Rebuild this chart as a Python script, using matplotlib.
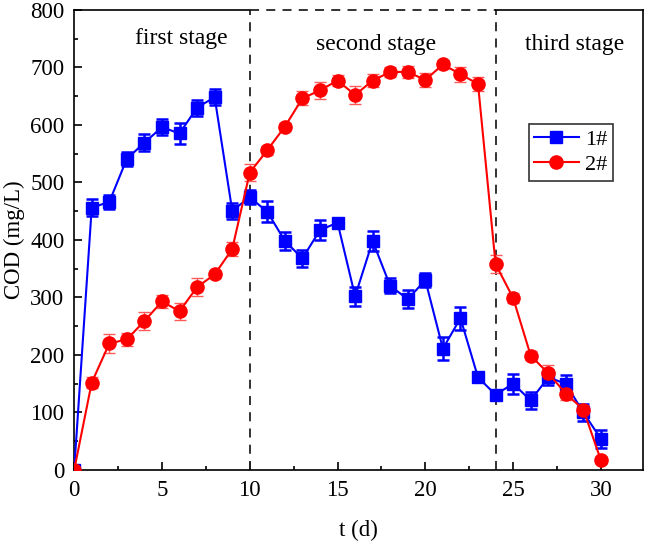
import numpy as np
import matplotlib.pyplot as plt
from matplotlib.ticker import MultipleLocator
from matplotlib.lines import Line2D

plt.rcParams['font.family'] = ['Liberation Serif', 'DejaVu Serif']

t = np.arange(0, 31)

cod1 = [0, 456, 466, 541, 569, 596, 585, 630, 648, 451, 474, 449, 398, 368, 417, 430,
        302, 398, 320, 297, 330, 211, 264, 161, 131, 150, 121, 161, 150, 100, 54]
err1 = [0, 15, 12, 12, 15, 14, 18, 14, 14, 14, 12, 18, 15, 15, 17, 6,
        17, 17, 13, 16, 12, 20, 20, 8, 8, 17, 15, 13, 15, 15, 15]

cod2 = [0, 152, 220, 227, 259, 293, 276, 318, 340, 384, 517, 556, 597, 646, 660, 677,
        652, 677, 692, 692, 678, 705, 688, 671, 358, 299, 199, 168, 133, 105, 17]
err2 = [0, 10, 16, 12, 15, 12, 15, 15, 6, 12, 15, 8, 6, 12, 15, 10,
        15, 12, 8, 10, 12, 8, 13, 12, 15, 8, 8, 15, 12, 8, 5]

stages = ["first stage", "second stage", "third stage"]
stage_x = [6.1, 17.2, 28.5]
stage_y = [750, 740, 740]

fig = plt.figure(figsize=(6.45, 5.44), dpi=100)
ax = fig.add_axes([0.115, 0.136, 0.882, 0.846])

ax.errorbar(t, cod1, yerr=err1, color="blue", marker="s", markersize=8, lw=1.5,
            elinewidth=1.8, capsize=4, capthick=1.8, zorder=3)
ax.errorbar(t, cod2, yerr=err2, color="red", marker="o", markersize=9.5, lw=1.5,
            ecolor=(1, 0.35, 0.35), elinewidth=1.0, capsize=4, capthick=1.0,
            zorder=3)

# dashed box for second stage
for xv in (10, 24):
    ax.axvline(xv, color="#222222", ls=(0, (5, 4)), lw=1.3, zorder=2)

ax.set_xlim(0, 32.4)
ax.set_ylim(0, 800)

ax.spines['top'].set_visible(False)
ax.plot([0, 10], [800, 800], color="black", lw=1.2, clip_on=False, zorder=4)
ax.plot([10, 24], [800, 800], color="#222222", lw=1.3, ls=(0, (5, 4)), clip_on=False, zorder=4)
ax.plot([24, 32.4], [800, 800], color="black", lw=1.2, clip_on=False, zorder=4)
for side in ('left', 'right', 'bottom'):
    ax.spines[side].set_linewidth(1.2)

for s, xs, ys in zip(stages, stage_x, stage_y):
    ax.text(xs, ys, s, ha="center", va="center", fontsize=17)

ax.xaxis.set_major_locator(MultipleLocator(5))
ax.xaxis.set_minor_locator(MultipleLocator(2.5))
ax.yaxis.set_major_locator(MultipleLocator(100))
ax.yaxis.set_minor_locator(MultipleLocator(50))
ax.tick_params(which="both", direction="in", top=False, right=False, labelsize=16.5)
ax.tick_params(which="major", length=6, width=1.2)
ax.tick_params(which="minor", length=3, width=1.2)
ax.tick_params(axis="x", pad=7)
ax.tick_params(axis="y", pad=7)

ax.set_xlabel("t (d)", fontsize=16.5, labelpad=14)
ax.set_ylabel("COD (mg/L)", fontsize=16.5, labelpad=4)

handles = [Line2D([], [], color="blue", marker="s", markersize=8, lw=1.5),
           Line2D([], [], color="red", marker="o", markersize=9.5, lw=1.5)]
leg = ax.legend(handles, ["1#", "2#"], loc="center", bbox_to_anchor=(0.873, 0.69),
                fontsize=16, frameon=True, fancybox=False, edgecolor="black",
                handlelength=2.0, borderpad=0.25, labelspacing=0.2, handletextpad=0.3)
leg.get_frame().set_linewidth(1.2)

plt.savefig("out.png", dpi=100)
